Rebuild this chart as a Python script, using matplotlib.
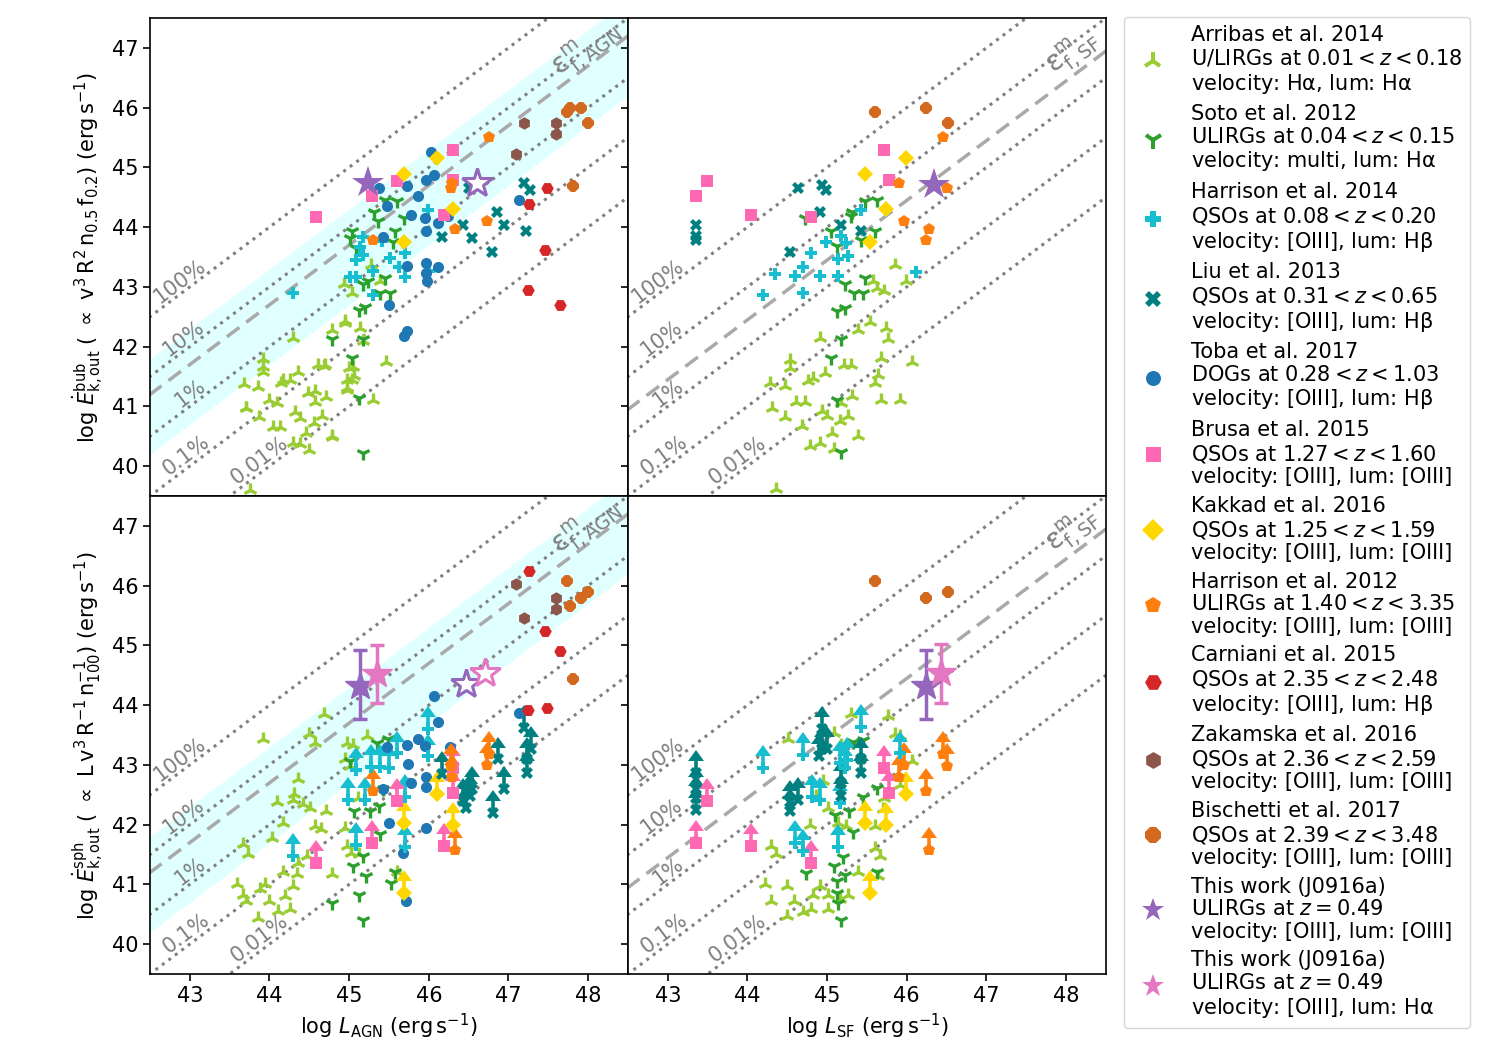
import numpy as np
import matplotlib
matplotlib.use("Agg")
import matplotlib.pyplot as plt
from matplotlib.lines import Line2D

# ---------------- data ----------------
# log L (AGN / SF) vs log E_dot (bubble / spherical) per sample and panel

arribas_agn_bub = [(44.30, 42.14), (43.92, 41.80), (43.92, 41.66), (43.68, 41.37), (43.86, 41.32), (44.17, 41.44),
                   (44.15, 41.39), (44.26, 41.44), (44.36, 41.58), (44.61, 41.69), (44.70, 41.69), (43.99, 41.11),
                   (44.09, 41.05), (43.71, 40.98), (43.87, 40.82), (44.32, 40.91), (44.38, 40.80), (44.48, 41.22),
                   (44.57, 41.25), (44.57, 41.08), (44.71, 41.16), (44.05, 40.65), (44.13, 40.66), (44.46, 40.56),
                   (44.56, 40.72), (44.66, 40.83), (44.78, 40.49), (44.30, 40.38), (44.38, 40.37), (44.49, 40.27),
                   (43.76, 39.60), (44.95, 42.42), (45.03, 41.44), (44.97, 41.27), (44.97, 41.44), (45.05, 41.66),
                   (44.78, 42.28), (44.95, 42.40), (45.13, 42.31), (45.18, 42.10), (44.68, 41.67), (45.00, 41.64),
                   (45.06, 41.50), (44.97, 41.31), (45.46, 41.75), (45.30, 41.11), (44.79, 40.50), (44.93, 43.04),
                   (45.03, 42.90), (45.27, 43.37), (45.39, 43.09), (43.92, 41.58), (43.70, 40.97)]
arribas_sf_bub = [(44.36, 39.61), (44.53, 41.78), (44.54, 41.64), (44.28, 41.39), (44.47, 41.34), (44.31, 40.97),
                  (44.47, 40.82), (44.61, 41.08), (44.72, 41.08), (44.68, 40.67), (44.76, 41.42), (44.82, 41.47),
                  (44.97, 41.56), (44.78, 40.33), (44.91, 40.39), (44.93, 40.92), (45.00, 40.83), (45.09, 40.28),
                  (45.06, 40.55), (45.16, 40.75), (45.26, 40.83), (45.31, 41.17), (45.21, 41.70), (45.30, 41.70),
                  (44.91, 42.14), (45.18, 41.06), (45.39, 42.28), (45.54, 42.41), (45.74, 42.31), (45.76, 42.12),
                  (45.68, 41.81), (45.64, 41.53), (45.60, 41.39), (45.68, 41.11), (45.91, 41.11), (45.39, 40.50),
                  (46.06, 41.75), (45.85, 43.37), (45.99, 43.09), (45.62, 42.98), (45.72, 42.93), (45.58, 43.09)]
arribas_agn_sph = [(43.92, 43.44), (44.68, 43.85), (44.49, 43.51), (44.57, 43.37), (44.97, 43.37), (45.05, 43.34),
                   (44.95, 43.09), (45.01, 42.98), (45.22, 43.48), (44.36, 42.76), (44.31, 42.51), (44.30, 42.42),
                   (44.42, 42.34), (44.51, 42.28), (44.10, 42.37), (44.17, 42.03), (44.03, 41.78), (44.71, 42.23),
                   (44.57, 41.98), (44.65, 41.92), (44.95, 41.95), (44.97, 41.64), (45.02, 41.53), (43.67, 41.67),
                   (43.73, 41.50), (43.59, 41.00), (43.67, 40.83), (43.71, 40.72), (43.88, 40.92), (43.94, 41.00),
                   (43.99, 40.72), (43.86, 40.44), (44.11, 40.55), (44.19, 40.81), (44.26, 40.58), (44.17, 41.20),
                   (44.34, 41.17), (44.30, 40.97), (44.47, 41.47), (44.36, 41.36), (44.79, 41.17), (45.11, 42.45),
                   (45.12, 41.50), (45.60, 41.20)]
arribas_sf_sph = [(45.30, 43.85), (45.76, 43.82), (44.51, 43.43), (45.08, 43.54), (45.18, 43.34), (45.85, 43.51),
                  (45.91, 43.48), (46.06, 43.06), (44.95, 42.73), (44.86, 42.48), (44.78, 42.00), (45.01, 42.28),
                  (45.14, 42.03), (45.24, 41.98), (45.60, 41.98), (45.70, 42.26), (45.91, 42.67), (45.72, 42.45),
                  (44.30, 41.64), (44.36, 41.50), (44.22, 41.00), (44.30, 40.72), (44.49, 40.97), (44.59, 40.72),
                  (44.49, 40.47), (44.70, 40.53), (44.80, 40.58), (44.82, 40.83), (44.91, 40.97), (45.01, 40.83),
                  (45.16, 40.75), (45.26, 40.83), (45.39, 41.20), (45.60, 41.61), (45.66, 41.47), (45.64, 41.14),
                  (45.01, 40.58)]

soto_agn_bub = [(45.45, 44.46), (45.60, 44.44), (45.31, 44.26), (45.36, 44.10), (45.69, 44.16), (45.58, 43.94),
                (45.03, 43.93), (45.01, 43.82), (45.09, 43.65), (45.55, 43.75), (45.45, 43.15), (45.39, 42.90),
                (45.51, 42.90), (45.18, 43.04), (45.24, 43.09), (45.12, 42.62), (45.20, 42.67), (45.18, 42.12),
                (44.79, 42.12), (45.03, 41.81), (45.12, 41.14), (45.17, 40.22)]
soto_sf_bub = [(45.47, 44.44), (45.62, 44.46), (45.31, 44.26), (45.30, 44.18), (44.72, 44.15), (45.05, 43.93),
               (45.12, 43.68), (45.60, 43.93), (45.43, 43.79), (45.47, 43.15), (45.22, 43.04), (45.34, 42.90),
               (45.45, 42.90), (45.13, 42.59), (45.22, 42.65), (45.18, 42.12), (45.05, 41.81), (45.13, 41.11),
               (45.18, 40.23)]
soto_agn_sph = [(45.49, 43.43), (45.35, 43.37), (45.01, 43.06), (45.06, 42.23), (45.26, 42.23), (45.38, 42.31),
                (45.43, 42.59), (45.39, 41.84), (45.05, 41.31), (45.18, 41.47), (45.21, 41.14), (45.12, 40.83),
                (44.78, 40.69), (45.17, 40.41), (45.58, 41.20), (45.53, 41.03)]
soto_sf_sph = [(45.33, 43.39), (45.45, 43.42), (45.27, 42.22), (45.10, 42.16), (45.45, 42.47), (45.62, 42.61),
               (45.33, 41.88), (45.20, 41.46), (45.08, 41.30), (45.12, 41.05), (45.22, 41.16), (44.74, 41.19),
               (45.12, 40.85), (45.62, 41.21), (45.18, 40.41), (45.14, 40.69)]

harrison14_agn_bub = [(44.29, 42.89), (45.99, 44.29), (45.18, 43.84), (45.14, 43.67), (45.18, 43.53), (45.09, 43.45),
                      (45.70, 43.56), (45.51, 43.48), (45.62, 43.34), (45.70, 43.17), (45.30, 43.26), (45.01, 43.17),
                      (45.09, 43.17), (45.30, 42.86), (45.41, 43.76), (46.00, 43.26)]
harrison14_sf_bub = [(44.19, 42.86), (44.34, 43.22), (44.60, 43.18), (44.70, 43.34), (44.70, 42.90), (44.80, 43.57),
                     (44.91, 43.18), (44.99, 43.75), (45.14, 43.18), (45.14, 43.47), (45.17, 43.85), (45.24, 43.73),
                     (45.26, 43.51), (45.43, 44.28), (46.11, 43.25)]
harrison14_agn_sph = [(45.99, 43.60), (45.99, 43.14), (45.09, 42.91), (45.28, 42.97), (45.39, 42.97), (45.50, 42.94),
                      (45.60, 43.19), (44.99, 42.41), (45.20, 42.41), (45.70, 42.47), (45.09, 41.66), (45.70, 41.63),
                      (44.30, 41.47)]
harrison14_sf_sph = [(44.19, 42.94), (44.70, 43.17), (45.43, 43.64), (45.16, 43.03), (45.25, 43.08), (45.22, 42.94),
                     (44.81, 42.47), (44.91, 42.41), (45.16, 42.36), (45.91, 43.19), (44.60, 41.69), (44.70, 41.55),
                     (45.14, 41.63)]

liu_agn_bub = [(47.19, 44.73), (47.27, 44.62), (46.86, 44.26), (46.94, 44.03), (47.22, 43.93), (46.43, 44.04),
               (46.16, 43.83), (46.54, 43.81), (46.79, 43.58), (46.50, 44.65)]
liu_sf_bub = [(43.35, 44.03), (43.35, 43.85), (43.35, 43.79), (44.63, 44.65), (44.94, 44.71), (44.99, 44.62),
              (44.91, 44.26), (44.53, 43.58), (45.17, 44.03), (45.43, 43.94)]
liu_agn_sph = [(47.19, 43.62), (47.23, 43.09), (47.23, 42.87), (47.28, 43.26), (46.87, 43.09), (46.94, 42.59),
               (46.80, 42.20), (46.47, 42.28), (46.52, 42.48), (46.43, 42.39), (46.54, 42.59), (46.16, 42.84)]
liu_sf_sph = [(43.35, 42.87), (43.35, 42.59), (43.35, 42.24), (43.35, 42.45), (44.53, 42.37), (44.53, 42.23),
              (44.63, 42.42), (44.94, 43.60), (44.94, 43.26), (45.00, 43.26), (44.90, 43.15), (45.17, 42.70),
              (45.17, 42.48), (45.43, 43.09), (45.43, 42.87)]

toba_agn_bub = [(46.03, 45.26), (46.07, 44.88), (45.96, 44.78), (45.73, 44.68), (45.48, 44.36), (45.87, 44.52),
                (45.78, 44.21), (45.95, 44.15), (45.97, 43.94), (46.12, 44.07), (46.24, 44.18), (45.43, 43.83),
                (47.13, 44.45), (45.72, 43.35), (45.96, 43.40), (45.96, 43.23), (45.98, 43.09), (46.12, 43.33),
                (45.50, 42.70), (45.72, 42.26), (45.69, 42.17), (45.37, 44.65)]
toba_agn_sph = [(46.07, 44.16), (47.13, 43.87), (46.12, 43.72), (45.87, 43.43), (45.95, 43.32), (45.73, 43.34),
                (45.48, 43.30), (45.74, 43.01), (45.78, 42.70), (45.96, 42.79), (45.96, 42.63), (46.26, 43.30),
                (45.43, 42.60), (45.50, 42.02), (45.97, 41.94), (45.68, 41.52), (45.71, 40.72)]

# samples with one entry per object: L_AGN, L_SF, E_bub, E_sph
brusa_agn = [44.59, 45.29, 45.60, 46.30, 46.30, 46.19]
brusa_sf = [44.80, 43.35, 43.49, 45.71, 45.78, 44.04]
brusa_bub = [44.17, 44.52, 44.77, 45.29, 44.79, 44.20]
brusa_sph = [41.35, 41.70, 42.40, 42.95, 42.53, 41.65]

kakkad_agn = [46.10, 45.69, 46.30, 45.69]
kakkad_sf = [45.99, 45.47, 45.74, 45.54]
kakkad_bub = [45.15, 44.89, 44.30, 43.75]
kakkad_sph = [42.52, 42.03, 42.00, 40.86]

harrison12_agn = [46.76, 46.29, 46.28, 46.73, 46.33, 45.30]
harrison12_sf = [46.46, 45.90, 46.50, 45.97, 46.28, 46.24]
harrison12_bub = [45.51, 44.73, 44.65, 44.11, 43.96, 43.78]
harrison12_sph = [43.18, 42.79, 42.98, 43.00, 41.58, 42.57]

carniani_agn = [47.48, 47.26, 47.46, 47.24, 47.65]
carniani_bub = [44.65, 44.39, 43.62, 42.94, 42.69]
carniani_sph = [43.95, 46.24, 45.24, 43.91, 44.91]

zakamska_agn = [47.19, 47.60, 47.60, 47.09]
zakamska_bub = [45.75, 45.74, 45.55, 45.22]
zakamska_sph = [45.46, 45.80, 45.60, 46.02]

bischetti_agn = [47.74, 47.91, 48.00, 47.77, 47.81]
bischetti_sf = [45.60, 46.24, 46.52, np.nan, np.nan]
bischetti_bub = [45.93, 45.99, 45.75, 45.99, 44.68]
bischetti_sph = [46.07, 45.80, 45.89, 45.66, 44.43]

# this work (J0916a): filled = host estimate, open = alternative L_AGN
tw_oiii = {('agn', 'bub'): (45.24, 44.73), ('sf', 'bub'): (46.34, 44.71),
           ('agn', 'sph'): (45.14, 44.32), ('sf', 'sph'): (46.24, 44.32)}
tw_oiii_open = {('agn', 'bub'): (46.60, 44.74), ('agn', 'sph'): (46.47, 44.35)}
tw_ha = {('agn', 'sph'): (45.35, 44.52), ('sf', 'sph'): (46.43, 44.53)}
tw_ha_open = {('agn', 'sph'): (46.70, 44.54)}
tw_oiii_err = (0.55, 0.60)
tw_ha_err = (0.49, 0.49)

eff_levels = [1.0, 0.1, 0.01, 1e-3, 1e-4]
eff_labels = ['100%', '10%', '1%', '0.1%', '0.01%']
eps_agn = 0.05
eps_sf = 0.028
band_agn = (0.005, 0.2)


def objects(xs, ys):
    xs, ys = np.asarray(xs, float), np.asarray(ys, float)
    ok = ~np.isnan(xs) & ~np.isnan(ys)
    return list(zip(xs[ok], ys[ok]))


def per_object(agn, bub, sph, sf=None):
    out = {('agn', 'bub'): objects(agn, bub), ('agn', 'sph'): objects(agn, sph)}
    if sf is not None:
        out[('sf', 'bub')] = objects(sf, bub)
        out[('sf', 'sph')] = objects(sf, sph)
    return out


HA = r'H$\mathrm{\alpha}$'
HB = r'H$\mathrm{\beta}$'
samples = [
    dict(label="Arribas et al. 2014\nU/LIRGs at $0.01 < z < 0.18$\nvelocity: " + HA + ", lum: " + HA,
         color='yellowgreen', marker='2', ms=10, mew=2.4, lolim=False,
         pts={('agn', 'bub'): arribas_agn_bub, ('sf', 'bub'): arribas_sf_bub,
              ('agn', 'sph'): arribas_agn_sph, ('sf', 'sph'): arribas_sf_sph}),
    dict(label="Soto et al. 2012\nULIRGs at $0.04 < z < 0.15$\nvelocity: multi, lum: " + HA,
         color='tab:green', marker='1', ms=10, mew=2.4, lolim=False,
         pts={('agn', 'bub'): soto_agn_bub, ('sf', 'bub'): soto_sf_bub,
              ('agn', 'sph'): soto_agn_sph, ('sf', 'sph'): soto_sf_sph}),
    dict(label="Harrison et al. 2014\nQSOs at $0.08 < z < 0.20$\nvelocity: [OIII], lum: " + HB,
         color='tab:cyan', marker='P', ms=9, mew=0, lolim=True,
         pts={('agn', 'bub'): harrison14_agn_bub, ('sf', 'bub'): harrison14_sf_bub,
              ('agn', 'sph'): harrison14_agn_sph, ('sf', 'sph'): harrison14_sf_sph}),
    dict(label="Liu et al. 2013\nQSOs at $0.31 < z < 0.65$\nvelocity: [OIII], lum: " + HB,
         color='teal', marker='X', ms=9, mew=0, lolim=True,
         pts={('agn', 'bub'): liu_agn_bub, ('sf', 'bub'): liu_sf_bub,
              ('agn', 'sph'): liu_agn_sph, ('sf', 'sph'): liu_sf_sph}),
    dict(label="Toba et al. 2017\nDOGs at $0.28 < z < 1.03$\nvelocity: [OIII], lum: " + HB,
         color='tab:blue', marker='o', ms=8, mew=0, lolim=False,
         pts={('agn', 'bub'): toba_agn_bub, ('agn', 'sph'): toba_agn_sph}),
    dict(label="Brusa et al. 2015\nQSOs at $1.27 < z < 1.60$\nvelocity: [OIII], lum: [OIII]",
         color='hotpink', marker='s', ms=8, mew=0, lolim=True,
         pts=per_object(brusa_agn, brusa_bub, brusa_sph, brusa_sf)),
    dict(label="Kakkad et al. 2016\nQSOs at $1.25 < z < 1.59$\nvelocity: [OIII], lum: [OIII]",
         color='gold', marker='D', ms=8, mew=0, lolim=True,
         pts=per_object(kakkad_agn, kakkad_bub, kakkad_sph, kakkad_sf)),
    dict(label="Harrison et al. 2012\nULIRGs at $1.40 < z < 3.35$\nvelocity: [OIII], lum: [OIII]",
         color='tab:orange', marker='p', ms=9, mew=0, lolim=True,
         pts=per_object(harrison12_agn, harrison12_bub, harrison12_sph, harrison12_sf)),
    dict(label="Carniani et al. 2015\nQSOs at $2.35 < z < 2.48$\nvelocity: [OIII], lum: " + HB,
         color='tab:red', marker='H', ms=9, mew=0, lolim=False,
         pts=per_object(carniani_agn, carniani_bub, carniani_sph)),
    dict(label="Zakamska et al. 2016\nQSOs at $2.36 < z < 2.59$\nvelocity: [OIII], lum: [OIII]",
         color='tab:brown', marker='h', ms=9, mew=0, lolim=False,
         pts=per_object(zakamska_agn, zakamska_bub, zakamska_sph)),
    dict(label="Bischetti et al. 2017\nQSOs at $2.39 < z < 3.48$\nvelocity: [OIII], lum: [OIII]",
         color='chocolate', marker='8', ms=9, mew=0, lolim=False,
         pts=per_object(bischetti_agn, bischetti_bub, bischetti_sph, bischetti_sf)),
]
tw_labels = ["This work (J0916a)\nULIRGs at $z = 0.49$\nvelocity: [OIII], lum: [OIII]",
             "This work (J0916a)\nULIRGs at $z = 0.49$\nvelocity: [OIII], lum: " + HA]
tw_colors = ['tab:purple', 'tab:pink']

# ---------------- figure ----------------
fig = plt.figure(figsize=(15, 10.5), dpi=100)
axs = fig.subplots(2, 2, sharex=True, sharey=True)
fig.subplots_adjust(left=0.1, right=0.7373, bottom=0.0724, top=0.9829, wspace=0, hspace=0)

panels = {('agn', 'bub'): axs[0, 0], ('sf', 'bub'): axs[0, 1],
          ('agn', 'sph'): axs[1, 0], ('sf', 'sph'): axs[1, 1]}

xx = np.array([42.0, 49.0])
rot_kw = dict(rotation=45, transform_rotates_text=True, rotation_mode='anchor',
              ha='center', va='center', color='gray', zorder=2)
for (xk, yk), ax in panels.items():
    ax.set_xlim(42.5, 48.5)
    ax.set_ylim(39.5, 47.5)
    ax.set_xticks(range(43, 49))
    ax.set_yticks(range(40, 48))
    ax.tick_params(labelsize=15, width=1.2, length=5)
    for sp in ax.spines.values():
        sp.set_linewidth(1.2)

    if xk == 'agn':
        ax.fill_between(xx, xx + np.log10(band_agn[0]), xx + np.log10(band_agn[1]),
                        color='lightcyan', lw=0, zorder=0)
    for lev in eff_levels:
        ax.plot(xx, xx + np.log10(lev), ls=':', color='gray', lw=2.2, zorder=1)
    eps = eps_agn if xk == 'agn' else eps_sf
    ax.plot(xx, xx + np.log10(eps), color='darkgray', lw=2.5, dashes=(4.5, 2.5), zorder=1)

    # efficiency labels along the lines
    lab_x = [42.88, 42.92, 43.0, 42.96, 43.88]
    for lev, lab, lx in zip(eff_levels, eff_labels, lab_x):
        ax.text(lx, lx + np.log10(lev) + 0.22, lab, fontsize=15, **rot_kw)
    if xk == 'agn':
        ax.text(47.98, 46.98, r'$\mathrm{\varepsilon}^{\rm m}_{\rm f,AGN}$', fontsize=20, **rot_kw)
    else:
        ax.text(48.08, 46.92, r'$\mathrm{\varepsilon}^{\rm m}_{\rm f,SF}$', fontsize=20, **rot_kw)

    for s in samples:
        pts = s['pts'].get((xk, yk))
        if not pts:
            continue
        x, y = np.array(pts, float).T
        if s['lolim'] and yk == 'sph':
            ax.errorbar(x, y, yerr=0.2, lolims=True, fmt=s['marker'], color=s['color'],
                        ms=s['ms'], mew=s['mew'], elinewidth=2.6, capsize=5.5, zorder=3)
        else:
            ax.plot(x, y, ls='none', marker=s['marker'], color=s['color'],
                    ms=s['ms'], mew=s['mew'], zorder=3)

    # this work
    for pos, opn, err, col in [(tw_oiii, tw_oiii_open, tw_oiii_err, tw_colors[0]),
                               (tw_ha, tw_ha_open, tw_ha_err, tw_colors[1])]:
        if (xk, yk) in pos:
            px, py = pos[(xk, yk)]
            if yk == 'sph':
                ax.errorbar([px], [py], yerr=[[err[0]], [err[1]]], fmt='*', color=col, ms=22,
                            elinewidth=2.5, capsize=5, capthick=2.5, zorder=4)
            else:
                ax.plot(px, py, marker='*', color=col, ms=24, mew=0, zorder=4)
        if (xk, yk) in opn:
            px, py = opn[(xk, yk)]
            ax.plot(px, py, marker='*', ms=22, mfc='white', mec=col, mew=2.2, zorder=4)

axs[1, 0].set_xlabel(r'log $L_{\rm AGN}$ (erg$\,$s$^{-1}$)', fontsize=15)
axs[1, 1].set_xlabel(r'log $L_{\rm SF}$ (erg$\,$s$^{-1}$)', fontsize=15)
axs[0, 0].set_ylabel(r'log $\dot{E}^{\rm bub}_{\rm k,out}$ ( $\propto$ v$^3\,$R$^2\,$n$_{0.5}\,$f$_{0.2}$) (erg$\,$s$^{-1}$)',
                     fontsize=15)
axs[1, 0].set_ylabel(r'log $\dot{E}^{\rm sph}_{\rm k,out}$ ( $\propto$ L$\,$v$^3\,$R$^{-1}\,$n$^{-1}_{100}$) (erg$\,$s$^{-1}$)',
                     fontsize=15)

handles = [Line2D([], [], ls='none', marker=s['marker'], color=s['color'], ms=s['ms'] * 1.35,
                  mew=s['mew'] * 1.2) for s in samples]
handles += [Line2D([], [], ls='none', marker='*', color=c, ms=17, mew=0) for c in tw_colors]
labels = [s['label'] for s in samples] + tw_labels
leg = fig.legend(handles, labels, loc='upper left', bbox_to_anchor=(0.7493, 0.9838), fontsize=15,
                 labelspacing=0.42, borderaxespad=0)
for t in leg.get_texts():
    t.set_linespacing(1.15)

fig.savefig('out.png', dpi=100)
